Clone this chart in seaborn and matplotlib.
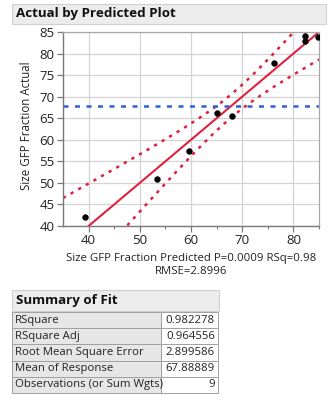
import numpy as np
import pandas as pd
import seaborn as sns
import matplotlib
matplotlib.use("Agg")
import matplotlib.pyplot as plt
from matplotlib.patches import Rectangle

# Whole-model leverage data
predicted = [39.3, 53.4, 59.7, 65.0, 68.0, 76.2, 82.3, 82.3, 84.8]
actual = [42.2, 51.0, 57.3, 66.1, 65.6, 77.9, 84.1, 82.9, 83.9]

x_ticks = [40, 50, 60, 70, 80]
y_ticks = [40, 45, 50, 55, 60, 65, 70, 75, 80, 85]

# Fit statistics
rmse = 2.899586
t_crit = 2.776445      # t(0.975, df=4)
f_crit = 6.388233      # F(0.95; 4, 4)
f_model = 55.43        # whole-model F ratio

summary_labels = ["RSquare", "RSquare Adj", "Root Mean Square Error",
                  "Mean of Response", "Observations (or Sum Wgts)"]
summary_values = ["0.982278", "0.964556", "2.899586", "67.88889", "9"]

sns.set_theme(style="white")
plt.rcParams["font.family"] = ["Open Sans", "DejaVu Sans"]

df = pd.DataFrame({"pred": predicted, "act": actual})
n = len(df)
ybar = df["act"].mean()

fig = plt.figure(figsize=(3.35, 4.0), dpi=100)
W, H = 335, 400


def fx(px):
    return px / W


def fy(py):
    return 1 - py / H


ax = fig.add_axes([fx(63), fy(226), fx(319) - fx(63), fy(32) - fy(226)])
ax.set_xlim(35, 85)
ax.set_ylim(40, 85)

ax.set_xticks(x_ticks)
ax.set_yticks(y_ticks)
ax.set_xticks([45, 55, 65, 75, 85], minor=True)
ax.grid(True, which="major", color="#d4d4d4", linewidth=0.9)
ax.set_axisbelow(True)

# Fit line, confidence curves and mean line
xs = np.linspace(35, 85, 200)
half = np.sqrt((t_crit * rmse) ** 2 / n + (f_crit / f_model) * (xs - ybar) ** 2)
line = pd.DataFrame({"x": xs, "fit": xs, "lo": xs - half, "hi": xs + half})

red = "#e0203f"
sns.lineplot(data=line, x="x", y="fit", ax=ax, color=red, linewidth=1.5)
sns.lineplot(data=line, x="x", y="hi", ax=ax, color=red, linewidth=1.8,
             linestyle=(0, (1.3, 2.2)))
sns.lineplot(data=line, x="x", y="lo", ax=ax, color=red, linewidth=1.8,
             linestyle=(0, (1.3, 2.2)))
ax.axhline(ybar, color="#2f5fd6", linewidth=1.8, linestyle=(0, (2.0, 2.6)))

sns.scatterplot(data=df, x="pred", y="act", ax=ax, color="black", s=18,
                edgecolor="black", linewidth=0.3, zorder=5, clip_on=True)

for side in ["left", "bottom"]:
    ax.spines[side].set_color("#7a7a7a")
    ax.spines[side].set_linewidth(1.0)
for side in ["top", "right"]:
    ax.spines[side].set_color("#a8a8a8")
    ax.spines[side].set_linewidth(0.9)

ax.tick_params(axis="both", which="major", length=4, width=0.9,
               color="#7a7a7a", labelsize=9.5, labelcolor="#222222",
               direction="out", pad=2)
ax.tick_params(axis="x", which="minor", length=2.5, width=0.8,
               color="#7a7a7a", direction="out")
ax.tick_params(axis="both", which="both", bottom=True, left=True)

ax.set_xlabel("")
ax.set_ylabel("Size GFP Fraction Actual", fontsize=8.3, color="#222222")
ax.yaxis.set_label_coords((27 - 63) / (319 - 63), (226 - 126) / (226 - 32))
ax.yaxis.label.set_va("center")

fig.text(fx(191), fy(258), "Size GFP Fraction Predicted P=0.0009 RSq=0.98",
         ha="center", va="center", fontsize=8.2, color="#222222")
fig.text(fx(191), fy(272), "RMSE=2.8996", ha="center", va="center",
         fontsize=8.2, color="#222222")

# Title bar
fig.patches.append(Rectangle((fx(12), fy(24)), fx(326) - fx(12), fy(4) - fy(24),
                             transform=fig.transFigure, facecolor="#ececec",
                             edgecolor="#cfcfcf", linewidth=0.8))
fig.text(fx(16), fy(14), "Actual by Predicted Plot", ha="left", va="center",
         fontsize=9.6, fontweight="bold", color="#111111")

# Summary of Fit table
fig.patches.append(Rectangle((fx(12), fy(311)), fx(219) - fx(12), fy(290) - fy(311),
                             transform=fig.transFigure, facecolor="#ececec",
                             edgecolor="#cfcfcf", linewidth=0.8))
fig.text(fx(16), fy(300.5), "Summary of Fit", ha="left", va="center",
         fontsize=9.6, fontweight="bold", color="#111111")

row_top = 312
row_h = 16.2
for i, (lab, val) in enumerate(zip(summary_labels, summary_values)):
    y0 = row_top + i * row_h
    fig.patches.append(Rectangle((fx(12), fy(y0 + row_h)), fx(161) - fx(12),
                                 fy(y0) - fy(y0 + row_h),
                                 transform=fig.transFigure, facecolor="#e6e6e6",
                                 edgecolor="#a0a0a0", linewidth=0.7))
    fig.patches.append(Rectangle((fx(161), fy(y0 + row_h)), fx(218) - fx(161),
                                 fy(y0) - fy(y0 + row_h),
                                 transform=fig.transFigure, facecolor="white",
                                 edgecolor="#a0a0a0", linewidth=0.7))
    fig.text(fx(15), fy(y0 + row_h / 2), lab, ha="left", va="center",
             fontsize=8.2, color="#222222")
    fig.text(fx(215), fy(y0 + row_h / 2), val, ha="right", va="center",
             fontsize=8.2, color="#222222")

fig.savefig("out.png", dpi=100, facecolor="white")
